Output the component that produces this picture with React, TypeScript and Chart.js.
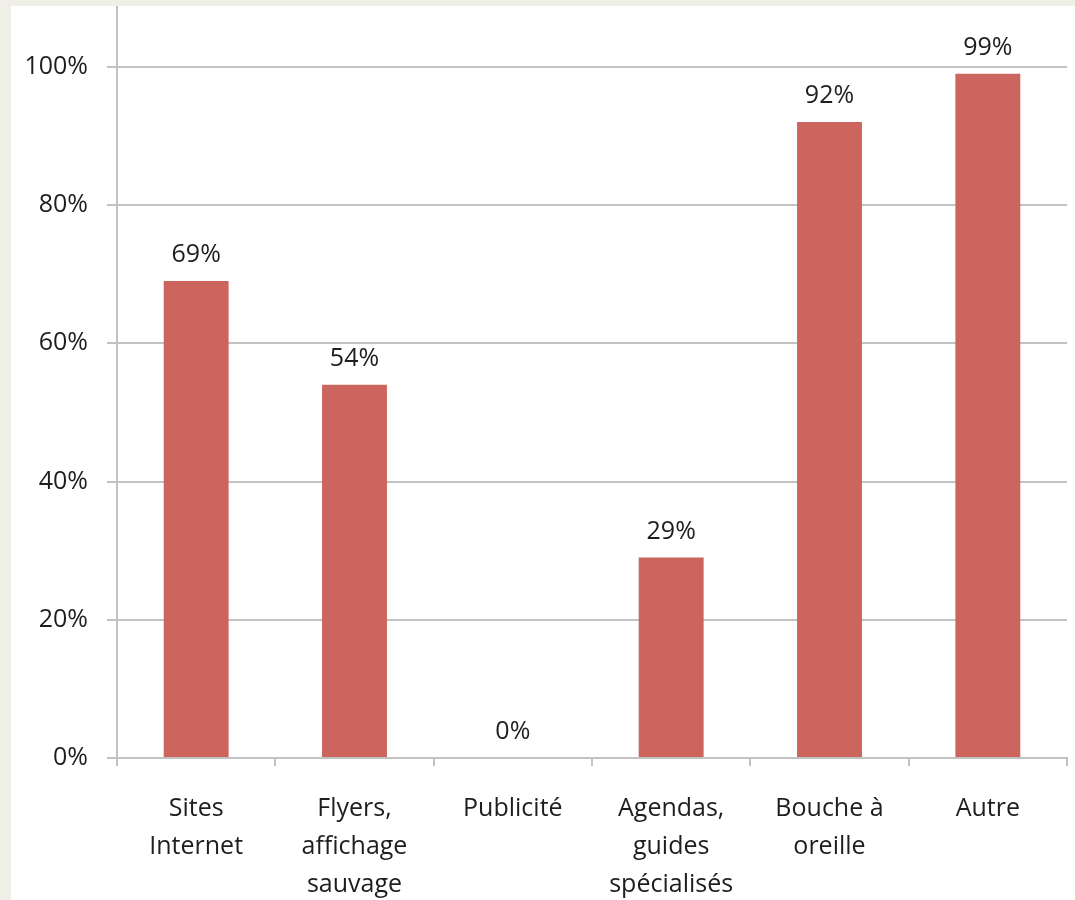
import React, { useEffect, useRef } from "react";
import { Chart, registerables } from "chart.js";

Chart.register(...registerables);

const categories: string[][] = [
  ["Sites", "Internet"],
  ["Flyers,", "affichage", "sauvage"],
  ["Publicité"],
  ["Agendas,", "guides", "spécialisés"],
  ["Bouche à", "oreille"],
  ["Autre"],
];
const values: number[] = [69, 54, 0, 29, 92, 99];
const yTickValues: number[] = [0, 20, 40, 60, 80, 100];

const FONT = "'Open Sans', sans-serif";
const TEXT = "#1e1e1e";
const GRID = "#c2c2c2";
const BAR = "#cc655e";

const dataLabels = {
  id: "dataLabels",
  afterDatasetsDraw(chart: any) {
    const ctx = chart.ctx;
    const meta = chart.getDatasetMeta(0);
    ctx.save();
    ctx.font = `25px ${FONT}`;
    ctx.fillStyle = TEXT;
    ctx.textAlign = "center";
    ctx.textBaseline = "alphabetic";
    meta.data.forEach((bar: any, i: number) => {
      ctx.fillText(values[i] + "%", bar.x, bar.y - 19);
    });
    ctx.restore();
  },
};

export default function App() {
  const ref = useRef<HTMLCanvasElement>(null);
  useEffect(() => {
    if (!ref.current) return;
    const chart = new Chart(ref.current, {
      type: "bar",
      data: {
        labels: categories,
        datasets: [
          {
            data: values,
            backgroundColor: BAR,
            borderWidth: 0,
            categoryPercentage: 1,
            barPercentage: 0.41,
          },
        ],
      },
      options: {
        responsive: false,
        animation: false,
        layout: { padding: { top: 0, right: 8, bottom: 0, left: 0 } },
        plugins: { legend: { display: false }, tooltip: { enabled: false } },
        scales: {
          x: {
            grid: {
              display: true,
              drawOnChartArea: false,
              drawTicks: true,
              tickLength: 8,
              color: GRID,
              lineWidth: 2,
              offset: true,
            },
            border: { display: true, color: GRID, width: 2 },
            ticks: {
              color: TEXT,
              font: { family: FONT, size: 25, lineHeight: 1.52 },
              padding: 24,
              maxRotation: 0,
              autoSkip: false,
            },
            afterFit: (scale: any) => {
              scale.height = 142;
              scale.paddingLeft = 0;
              scale.paddingRight = 0;
            },
          },
          y: {
            min: 0,
            max: 108.8,
            afterBuildTicks: (scale: any) => {
              scale.ticks = yTickValues.map((v) => ({ value: v }));
            },
            grid: {
              color: GRID,
              lineWidth: 2,
              drawTicks: true,
              tickLength: 10,
            },
            border: { display: true, color: GRID, width: 2 },
            ticks: {
              color: TEXT,
              font: { family: FONT, size: 25 },
              padding: 19,
              callback: (v: any) => v + "%",
            },
            afterFit: (scale: any) => {
              scale.width = 106;
              scale.paddingTop = 0;
              scale.paddingBottom = 0;
            },
          },
        },
      },
      plugins: [dataLabels],
    });
    return () => chart.destroy();
  }, []);

  return (
    <div
      style={{
        position: "absolute",
        left: 0,
        top: 0,
        width: 1075,
        height: 900,
        background: "#f0efe7",
        overflow: "hidden",
      }}
    >
      <div
        style={{
          position: "absolute",
          left: 11,
          top: 6,
          width: 1064,
          height: 894,
          background: "#ffffff",
        }}
      >
        <canvas ref={ref} width={1064} height={894} style={{ display: "block" }} />
      </div>
    </div>
  );
}
